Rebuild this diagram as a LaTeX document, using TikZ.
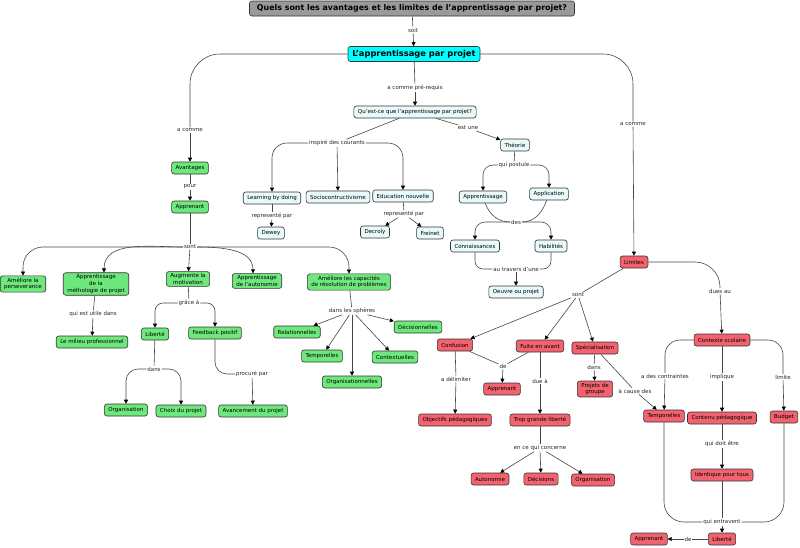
\documentclass[tikz,border=0pt]{standalone}
\usepackage{fontspec}
\setmainfont{DejaVu Sans}
\usetikzlibrary{arrows.meta}
\definecolor{vert}{HTML}{6EE87C}
\definecolor{rouge}{HTML}{F2636F}
\definecolor{bleu}{HTML}{E8FAFA}
\definecolor{cyanvif}{HTML}{00FFFF}
\definecolor{gristitre}{HTML}{9A9A9A}
\tikzset{
  concept/.style={draw=gray!40!black, rounded corners=2.5pt, align=center, inner xsep=4pt,
    inner ysep=2pt, minimum height=12pt, font=\fontsize{5.5}{6.6}\selectfont, line width=0.6pt},
  avant/.style={concept, fill=vert},
  limite/.style={concept, fill=rouge},
  courant/.style={concept, fill=bleu},
  titre/.style={concept, fill=gristitre, font=\fontsize{7.9}{9}\selectfont\bfseries,
    minimum width=325pt, minimum height=15pt},
  racine/.style={concept, fill=cyanvif, font=\fontsize{8.3}{9.5}\selectfont\bfseries,
    minimum width=132pt, minimum height=15pt},
  lien/.style={fill=white, inner sep=0.8pt, font=\fontsize{5.5}{6.4}\selectfont, text=black!85},
  fil/.style={draw=gray!55!black, line width=0.6pt},
  fleche/.style={fil, -{Triangle[length=4pt,width=4pt,color=black]}},
}
\begin{document}
\begin{tikzpicture}[x=1pt,y=-1pt]
\useasboundingbox (0,0) rectangle (800,547);

\node[titre] (q) at (412,8.5) {Quels sont les avantages et les limites de l'apprentissage par projet?};
\node[lien] (lsoit) at (413,30) {soit};
\node[racine] (ap) at (414,54) {L'apprentissage par projet};
\node[lien] (lpre) at (415,88) {a comme pré-requis};
\node[courant] (qec) at (415,112) {Qu'est-ce que l'apprentissage par projet?};
\node[lien] (lacL) at (190,130) {a comme};
\node[lien] (lacR) at (633,124) {a comme};

\node[avant] (av) at (190,168) {Avantages};
\node[lien] (lpour) at (190,187) {pour};
\node[avant] (appr) at (190,207) {Apprenant};
\node[lien] (lsont) at (190,247) {sont};
\node[avant] (p1) at (23,284) {Améliore la\\perseverance};
\node[avant] (p2) at (96,284) {Apprentissage\\de la\\méthologie de projet};
\node[avant] (p3) at (188,279) {Augmente la\\motivation};
\node[avant] (p4) at (257,281) {Apprentissage\\de l'autonomie};
\node[avant] (p5) at (349,282) {Améliore les capacités\\de résolution de problèmes};
\node[lien] (lutile) at (93,314) {qui est utile dans};
\node[avant] (milieu) at (92,342) {Le milieu professionnel};
\node[lien] (lgrace) at (189,303) {grâce à};
\node[avant] (lib) at (155,334) {Liberté};
\node[avant] (fb) at (215,333) {Feedback positif};
\node[lien] (ldans) at (154,369) {dans};
\node[avant] (orgv) at (126,410) {Organisation};
\node[avant] (choix) at (181,411) {Choix du projet};
\node[lien] (lproc) at (252,374) {procuré par};
\node[avant] (avan) at (253,411) {Avancement du projet};
\node[lien] (lsph) at (352,311) {dans les sphères};
\node[avant] (rel) at (297,332) {Relationnelles};
\node[avant] (tempv) at (322,356) {Temporelles};
\node[avant] (orgs) at (352,382) {Organisationnelles};
\node[avant] (cont) at (395,357) {Contextuelles};
\node[avant] (deci) at (418,327) {Décisionnelles};

\node[lien] (linsp) at (337,143) {inspiré des courants};
\node[courant] (lbd) at (272,198) {Learning by doing};
\node[courant] (soc) at (338,197) {Sociocontructivisme};
\node[courant] (edu) at (403,196) {Education nouvelle};
\node[lien] (lrep1) at (272,216) {representé par};
\node[courant] (dewey) at (271,233) {Dewey};
\node[lien] (lrep2) at (404,214) {representé par};
\node[courant] (decroly) at (375,232) {Decroly};
\node[courant] (freinet) at (430,233) {Freinet};
\node[lien] (lest) at (468,128) {est une};
\node[courant] (theo) at (515,145) {Théorie};
\node[lien] (lpost) at (514,165) {qui postule};
\node[courant] (appr2) at (483,197) {Apprentissage};
\node[courant] (appl) at (549,194) {Application};
\node[lien] (ldes) at (516,222) {des};
\node[courant] (conn) at (475,246) {Connaissances};
\node[courant] (hab) at (551,246) {Habilités};
\node[lien] (ltrav) at (516,269) {au travers d'une};
\node[courant] (oeuvre) at (516,292) {Oeuvre ou projet};

\node[limite] (lim) at (634,262) {Limites};
\node[lien] (lsont2) at (578,295) {sont};
\node[lien] (ldues) at (720,291) {dues au};
\node[limite] (conf) at (455,345) {Confusion};
\node[limite] (fuite) at (540,346) {Fuite en avant};
\node[limite] (spec) at (595,348) {Spécialisation};
\node[limite] (ctx) at (722,340) {Contexte scolaire};
\node[lien] (lde) at (503,366) {de};
\node[limite] (appr3) at (502,389) {Apprenant};
\node[lien] (ldelim) at (456,379) {a délimiter};
\node[limite] (obj) at (455,420) {Objectifs pédagogiques};
\node[lien] (ldue) at (540,381) {due à};
\node[limite] (trop) at (540,420) {Trop grande liberté};
\node[lien] (lconc) at (540,448) {en ce qui concerne};
\node[limite] (auto) at (490,479) {Autonomie};
\node[limite] (decis) at (541,479) {Décisions};
\node[limite] (orgr) at (593,480) {Organisation};
\node[lien] (ldans2) at (594,367) {dans};
\node[limite] (proj) at (595,389) {Projets de\\groupe};
\node[lien] (lcause) at (635,391) {à cause des};
\node[lien] (lcontr) at (665,376) {a des contraintes};
\node[lien] (limpl) at (722,377) {implique};
\node[lien] (llim) at (783,377) {limite};
\node[limite] (tempr) at (664,416) {Temporelles};
\node[limite] (contenu) at (722,418) {Contenu pédagogique};
\node[limite] (budget) at (784,417) {Budget};
\node[lien] (ldoit) at (722,444) {qui doit être};
\node[limite] (ident) at (722,475) {Identique pour tous};
\node[lien] (lentr) at (722,522) {qui entravent};
\node[limite] (libr) at (722,539) {Liberté};
\node[lien] (lde2) at (688,539) {de};
\node[limite] (appr4) at (649,539) {Apprenant};

\draw[fil] (q) -- (lsoit);
\draw[fleche] (lsoit) -- (ap);
\draw[fil] (ap) -- (lpre);
\draw[fleche] (lpre) -- (qec);
\draw[fil, rounded corners=30pt] (ap.west) -| (lacL);
\draw[fleche] (lacL) -- (av);
\draw[fil, rounded corners=30pt] (ap.east) -| (lacR);
\draw[fleche] (lacR) -- (lim);

\draw[fil] (av) -- (lpour);
\draw[fleche] (lpour) -- (appr);
\draw[fil] (appr) -- (lsont);
\draw[fleche, rounded corners=20pt] (lsont.west) -| (p1);
\draw[fleche] (lsont.west) to[out=180,in=90] ([xshift=8pt]p2.north);
\draw[fleche] (lsont) -- (p3);
\draw[fleche] (lsont.east) to[out=0,in=90] ([xshift=-4pt]p4.north);
\draw[fleche, rounded corners=20pt] (lsont.east) -| (p5);
\draw[fil] (p2) -- (lutile);
\draw[fleche] (lutile) -- (milieu);
\draw[fil] (p3) -- (lgrace);
\draw[fleche, rounded corners=8pt] (lgrace.west) -| (lib);
\draw[fleche, rounded corners=8pt] (lgrace.east) -| (fb);
\draw[fil] (lib) -- (ldans);
\draw[fleche, rounded corners=12pt] (ldans.west) -| (orgv);
\draw[fleche, rounded corners=12pt] (ldans.east) -| (choix);
\draw[fil, rounded corners=12pt] (fb) |- (lproc.west);
\draw[fleche] (lproc) -- (avan);
\draw[fil] (p5) -- (lsph);
\draw[fleche] (lsph) -- (rel);
\draw[fleche] (lsph) -- (tempv);
\draw[fleche] (lsph) -- (orgs);
\draw[fleche] (lsph) -- (cont);
\draw[fleche] (lsph) -- (deci);

\draw[fil] (qec) -- (linsp);
\draw[fleche, rounded corners=15pt] (linsp.west) -| (lbd);
\draw[fleche] (linsp) -- (soc);
\draw[fleche, rounded corners=15pt] (linsp.east) -| (edu);
\draw[fil] (lbd) -- (lrep1);
\draw[fleche] (lrep1) -- (dewey);
\draw[fil] (edu) -- (lrep2);
\draw[fleche] (lrep2) -- (decroly);
\draw[fleche] (lrep2) -- (freinet);
\draw[fil] (qec) -- (lest);
\draw[fleche] (lest) -- (theo);
\draw[fil] (theo) -- (lpost);
\draw[fleche, rounded corners=10pt] (lpost.west) -| (appr2);
\draw[fleche, rounded corners=10pt] (lpost.east) -| (appl);
\draw[fil] (appr2) to[out=-70,in=180] (ldes);
\draw[fil] (appl) to[out=-110,in=0] (ldes);
\draw[fleche, rounded corners=10pt] (ldes.west) -| (conn);
\draw[fleche, rounded corners=10pt] (ldes.east) -| (hab);
\draw[fil, rounded corners=8pt] (conn) |- (ltrav.west);
\draw[fil, rounded corners=8pt] (hab) |- (ltrav.east);
\draw[fleche] (ltrav) -- (oeuvre);

\draw[fil] (lim) -- (lsont2);
\draw[fleche] (lsont2) -- (conf);
\draw[fleche] (lsont2) -- (fuite);
\draw[fleche] (lsont2) -- (spec);
\draw[fil, rounded corners=25pt] (lim.east) -| (ldues);
\draw[fleche] (ldues) -- (ctx);
\draw[fil] (conf) -- (lde);
\draw[fil] (fuite) -- (lde);
\draw[fleche] (lde) -- (appr3);
\draw[fil] (conf) -- (ldelim);
\draw[fleche] (ldelim) -- (obj);
\draw[fil] (fuite) -- (ldue);
\draw[fleche] (ldue) -- (trop);
\draw[fil] (trop) -- (lconc);
\draw[fleche] (lconc) -- (auto);
\draw[fleche] (lconc) -- (decis);
\draw[fleche] (lconc) -- (orgr);
\draw[fil] (spec) -- (ldans2);
\draw[fleche] (ldans2) -- (proj);
\draw[fil] (spec) -- (lcause);
\draw[fleche] (lcause) -- (tempr);
\draw[fil, rounded corners=15pt] (ctx.west) -| (lcontr);
\draw[fleche] (lcontr) -- (tempr);
\draw[fil] (ctx) -- (limpl);
\draw[fleche] (limpl) -- (contenu);
\draw[fil, rounded corners=15pt] (ctx.east) -| (llim);
\draw[fleche] (llim) -- (budget);
\draw[fil] (contenu) -- (ldoit);
\draw[fleche] (ldoit) -- (ident);
\draw[fil] (ident) -- (lentr);
\draw[fil, rounded corners=20pt] (tempr) |- (lentr.west);
\draw[fil, rounded corners=20pt] (budget) |- (lentr.east);
\draw[fleche] (lentr) -- (libr);
\draw[fil] (libr) -- (lde2);
\draw[fleche] (lde2) -- (appr4);
\end{tikzpicture}
\end{document}
